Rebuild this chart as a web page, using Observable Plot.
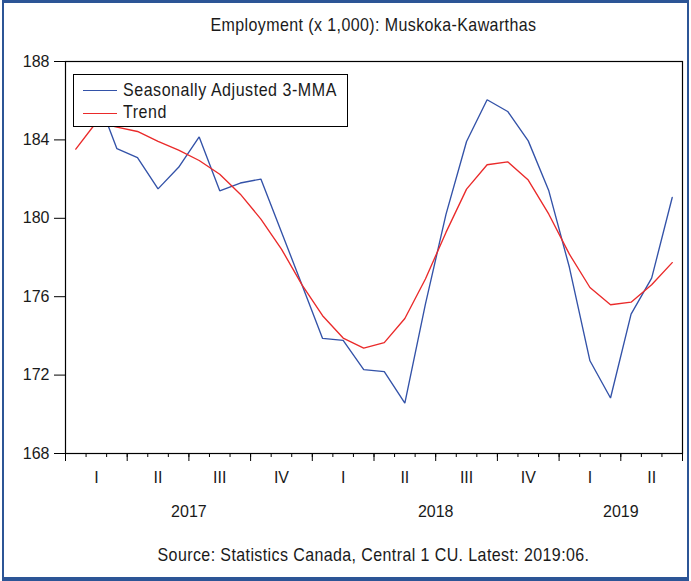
<!DOCTYPE html>
<html>
<head>
<meta charset="utf-8">
<script src="https://cdn.jsdelivr.net/npm/d3@7"></script>
<script src="https://cdn.jsdelivr.net/npm/@observablehq/plot@0.6"></script>
<style>
  body { margin: 0; background: #fff; }
  #wrap { position: relative; width: 691px; height: 581px; overflow: hidden;
          font-family: "Liberation Sans", Arial, sans-serif; color: #1a1a1a; background: #fff; }
  #border { position: absolute; left: 2px; top: 0; width: 687px; height: 581px; box-sizing: border-box;
            border: 2px solid #2c5596; border-top-width: 3px; border-bottom-width: 4px; pointer-events: none; }
  .cap { position: absolute; left: 65px; width: 617px; text-align: center; font-size: 16px;
         line-height: 16px; letter-spacing: 0.4px; white-space: nowrap;
         transform: scaleY(1.12); transform-origin: 50% 85%; }
  #title { top: 18px; }
  #footer { top: 548px; }
  #chart { position: absolute; left: 0; top: 40px; }
  #legend { position: absolute; left: 73px; top: 74px; width: 275px; height: 53px; box-sizing: border-box;
            border: 1px solid #000; background: #fff; }
  #legend .sw { position: absolute; left: 9px; width: 34px; height: 0; border-top: 1.4px solid; }
  #legend .lb { position: absolute; left: 49px; font-size: 16px; line-height: 16px; letter-spacing: 0.55px; white-space: nowrap;
                transform: scaleY(1.12); transform-origin: 0 85%; }
</style>
</head>
<body>
<div id="wrap">
  <div id="title" class="cap">Employment (x 1,000): Muskoka-Kawarthas</div>
  <div id="chart"></div>
  <div id="legend"></div>
  <div id="footer" class="cap">Source: Statistics Canada, Central 1 CU. Latest: 2019:06.</div>
  <div id="border"></div>
</div>
<script>
// ---- data ----
const months = [
  "2017-01","2017-02","2017-03","2017-04","2017-05","2017-06",
  "2017-07","2017-08","2017-09","2017-10","2017-11","2017-12",
  "2018-01","2018-02","2018-03","2018-04","2018-05","2018-06",
  "2018-07","2018-08","2018-09","2018-10","2018-11","2018-12",
  "2019-01","2019-02","2019-03","2019-04","2019-05","2019-06"
];
const seasonallyAdjusted3MMA = [
  185.3, 186.3, 183.55, 183.1, 181.5, 182.6,
  184.15, 181.4, 181.8, 182.0, 179.3, 176.6,
  173.87, 173.77, 172.28, 172.18, 170.57, 175.62,
  180.2, 183.92, 186.05, 185.45, 183.95, 181.4,
  177.5, 172.73, 170.83, 175.11, 176.95, 181.06
];
const trend = [
  183.53, 184.9, 184.65, 184.43, 183.92, 183.48,
  182.95, 182.25, 181.23, 179.96, 178.43, 176.6,
  175.03, 173.89, 173.38, 173.66, 174.89, 176.9,
  179.28, 181.49, 182.73, 182.88, 181.95, 180.21,
  178.17, 176.47, 175.59, 175.72, 176.61, 177.74
];
const quarterLabels = ["I", "II", "III", "IV"];
const yTicks = [168, 172, 176, 180, 184, 188];
const seriesNames = ["Seasonally Adjusted 3-MMA", "Trend"];
const seriesColors = ["#3352a8", "#ea2a2a"];

// ---- derived tables ----
const rows = months.map((m, i) => ({i, month: m, sa: seasonallyAdjusted3MMA[i], trend: trend[i]}));
const boundaries = d3.range(months.length + 1).map(k => k - 0.5);
const quarterBounds = boundaries.filter((b, k) => k % 3 === 0);
const quarters = rows.filter(r => (+r.month.slice(5) - 1) % 3 === 1)
  .map(r => ({pos: r.i, label: quarterLabels[Math.floor((+r.month.slice(5) - 1) / 3)]}));
const years = d3.groups(rows, r => r.month.slice(0, 4))
  .map(([y, rs]) => ({pos: d3.mean(rs, r => r.i), label: y}));
const qMap = new Map(quarters.map(q => [q.pos, q.label]));
const yMap = new Map(years.map(y => [y.pos, y.label]));

const chart = Plot.plot({
  width: 691,
  height: 483,
  marginLeft: 65,
  marginRight: 9,
  marginTop: 21,
  marginBottom: 70,
  style: {fontFamily: "'Liberation Sans', Arial, sans-serif", fontSize: "16px", color: "#1a1a1a", background: "transparent"},
  x: {domain: [-0.5, months.length - 0.5]},
  y: {domain: [168, 188]},
  marks: [
    Plot.axisY(yTicks, {tickSize: 11, tickPadding: 5, label: null, stroke: "#000", letterSpacing: 0.3}),
    Plot.axisX(boundaries, {tickSize: 4, tickFormat: () => "", label: null, stroke: "#000"}),
    Plot.axisX(quarterBounds, {tickSize: 8, tickFormat: () => "", label: null, stroke: "#000"}),
    Plot.axisX(quarters.map(q => q.pos), {tickSize: 0, tickPadding: 18, tickFormat: d => qMap.get(d), label: null}),
    Plot.axisX(years.map(y => y.pos), {tickSize: 0, tickPadding: 52, tickFormat: d => yMap.get(d), label: null, letterSpacing: 0.4}),
    Plot.line(rows, {x: "i", y: "sa", stroke: seriesColors[0], strokeWidth: 1.35, strokeLinejoin: "miter"}),
    Plot.line(rows, {x: "i", y: "trend", stroke: seriesColors[1], strokeWidth: 1.35, strokeLinejoin: "miter"}),
    Plot.frame({stroke: "#000", strokeWidth: 1.2})
  ]
});
document.getElementById("chart").appendChild(chart);

// legend
const legend = document.getElementById("legend");
seriesNames.forEach((name, k) => {
  const sw = document.createElement("div");
  sw.className = "sw";
  sw.style.top = (k === 0 ? 15 : 38) + "px";
  sw.style.borderColor = seriesColors[k];
  legend.appendChild(sw);
  const lb = document.createElement("div");
  lb.className = "lb";
  lb.style.top = (k === 0 ? 8 : 30) + "px";
  lb.textContent = name;
  legend.appendChild(lb);
});
</script>
</body>
</html>
